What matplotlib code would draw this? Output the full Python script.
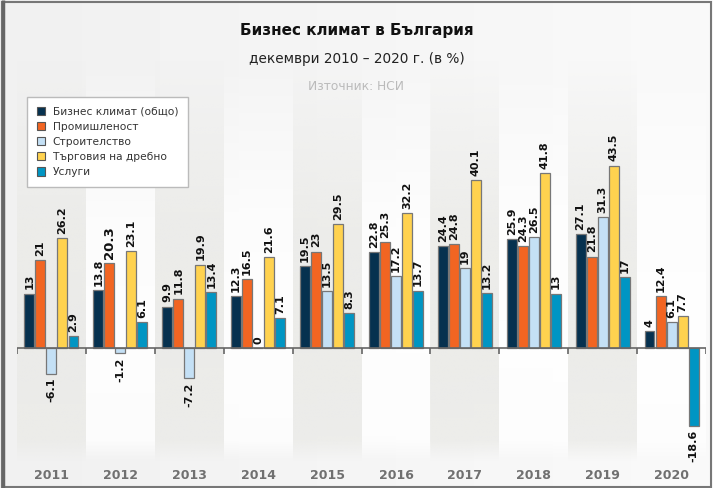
import numpy as np
import matplotlib
matplotlib.use("Agg")
import matplotlib.pyplot as plt
from matplotlib.patches import Rectangle
from matplotlib.colors import to_rgb

plt.rcParams['font.family'] = ['DejaVu Sans']

years = ['2011', '2012', '2013', '2014', '2015', '2016', '2017', '2018', '2019', '2020']
series_names = ['Бизнес климат (общо)', 'Промишленост', 'Строителство',
                'Търговия на дребно', 'Услуги']
business = [13, 13.8, 9.9, 12.3, 19.5, 22.8, 24.4, 25.9, 27.1, 4]
industry = [21, 20.3, 11.8, 16.5, 23, 25.3, 24.8, 24.3, 21.8, 12.4]
construction = [-6.1, -1.2, -7.2, 0, 13.5, 17.2, 19, 26.5, 31.3, 6.1]
retail = [26.2, 23.1, 19.9, 21.6, 29.5, 32.2, 40.1, 41.8, 43.5, 7.7]
services = [2.9, 6.1, 13.4, 7.1, 8.3, 13.7, 13.2, 13, 17, -18.6]
colors = ['#06314f', '#f26522', '#c4e0f5', '#ffd24f', '#0095c3']

data = [business, industry, construction, retail, services]

W, H = 713, 488
fig = plt.figure(figsize=(W / 100, H / 100), dpi=100)
fig.patch.set_facecolor('#f4f4f4')

# soft horizontal gradient of the page (lighter on the right)
bg = fig.add_axes([0, 0, 1, 1], zorder=-10)
bg.axis('off')
hg = np.linspace(0, 1, 200).reshape(1, -1)
c0 = np.array(to_rgb('#f1f1f1'))
c1 = np.array(to_rgb('#fafafa'))
page = c0 + (c1 - c0) * hg[..., None]
bg.imshow(page, extent=[0, 1, 0, 1], aspect='auto')

YMIN, YMAX = -32.9, 68.7
ax = fig.add_axes([17 / W, 2 / H, 689 / W, 426 / H])
ax.set_xlim(-0.5, len(years) - 0.5)
ax.set_ylim(YMIN, YMAX)
ax.axis('off')

# alternating background bands, fading at the top and bottom
yy = np.linspace(YMIN, YMAX, 300)
alpha = np.interp(yy, [YMIN, -27, -22, 0, 30, 55, YMAX], [0.0, 0.0, 0.8, 0.9, 0.8, 0.3, 0.0])
for i in range(len(years)):
    c = to_rgb('#ebebe8') if i % 2 == 0 else to_rgb('#ffffff')
    img = np.zeros((300, 1, 4))
    img[:, 0, :3] = c
    img[:, 0, 3] = alpha
    ax.imshow(img, extent=[i - 0.5, i + 0.5, YMIN, YMAX], origin='lower',
              aspect='auto', zorder=0)

x = np.arange(len(years))
slot = 0.16
bw = 0.145
for k, vals in enumerate(data):
    pos = x + (k - 2) * slot
    ax.bar(pos, vals, width=bw, color=colors[k], edgecolor='#777777',
           linewidth=0.9, zorder=3)
    for p, v in zip(pos, vals):
        fs = 9.5 if (k == 1 and v == 20.3) else 8
        if v >= 0:
            ax.annotate(f'{v:g}', (p, v), xytext=(0, 3), textcoords='offset points',
                        rotation=90, ha='center', va='bottom', fontsize=fs,
                        fontweight='bold', color='#111111', zorder=5)
        else:
            ax.annotate(f'{v:g}', (p, v), xytext=(0, -3), textcoords='offset points',
                        rotation=90, ha='center', va='top', fontsize=fs,
                        fontweight='bold', color='#111111', zorder=5)

# zero line and boundary ticks
ax.axhline(0, color='#666666', lw=1.2, zorder=4)
ax.vlines(np.arange(len(years) + 1) - 0.5, -1.3, 0, color='#666666', lw=1.2, zorder=4)

for i, yr in enumerate(years):
    ax.text(i, -30.3, yr, ha='center', va='center', fontsize=9,
            fontweight='bold', color='#707070', zorder=5)

# legend
handles = [Rectangle((0, 0), 1, 1, facecolor=c, edgecolor='#555555', lw=0.8)
           for c in colors]
leg = fig.legend(handles, series_names, loc='upper left',
                 bbox_to_anchor=(27 / W, 1 - 97 / H), fontsize=7.7,
                 frameon=True, fancybox=False, handlelength=0.8, handleheight=0.8,
                 handletextpad=0.7, labelspacing=0.48, borderpad=0.9,
                 borderaxespad=0)
leg.get_frame().set_facecolor('white')
leg.get_frame().set_edgecolor('#bbbbbb')
leg.get_frame().set_alpha(1)
for t in leg.get_texts():
    t.set_color('#333333')

fig.text(0.5, 1 - 30 / H, 'Бизнес климат в България', ha='center', va='center',
         fontsize=11, fontweight='bold', color='#111111')
fig.text(0.5, 1 - 59 / H, 'декември 2010 – 2020 г. (в %)', ha='center', va='center',
         fontsize=9.8, color='#222222')
fig.text(0.5, 1 - 86 / H, 'Източник: НСИ', ha='center', va='center',
         fontsize=8.8, color='#bbbbbb')

fig.patches.append(Rectangle((0.003, 0.003), 0.994, 0.993, transform=fig.transFigure,
                             fill=False, edgecolor='#777777', lw=1.5))
fig.patches.append(Rectangle((0.004, 0.0), 0.0, 1.0, transform=fig.transFigure,
                             fill=False, edgecolor='#666666', lw=2.5))

fig.savefig('out.png', dpi=100, facecolor=fig.get_facecolor())
